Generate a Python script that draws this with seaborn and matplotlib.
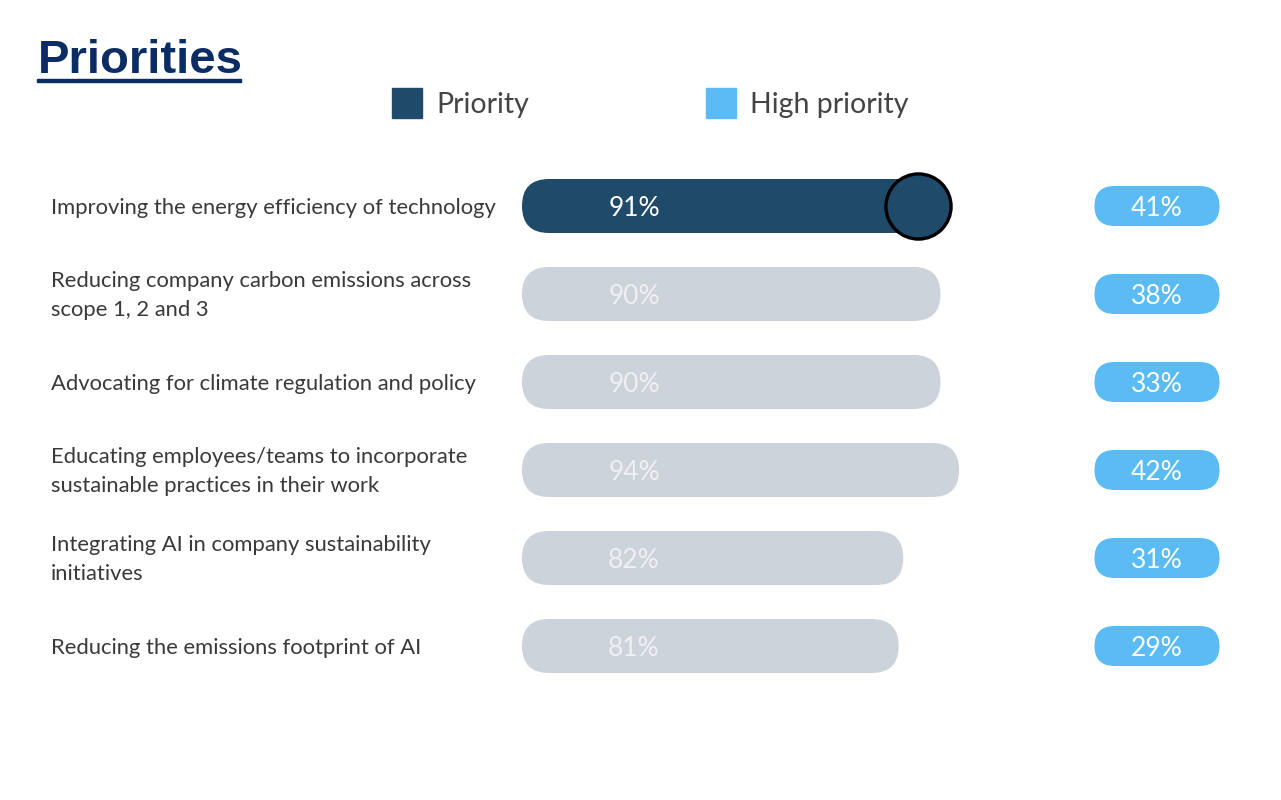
import matplotlib.pyplot as plt
import matplotlib.transforms as mtransforms
from matplotlib.patches import FancyBboxPatch, Rectangle
import pandas as pd
import seaborn as sns

# data
categories = [
    "Improving the energy efficiency of technology",
    "Reducing company carbon emissions across\nscope 1, 2 and 3",
    "Advocating for climate regulation and policy",
    "Educating employees/teams to incorporate\nsustainable practices in their work",
    "Integrating AI in company sustainability\ninitiatives",
    "Reducing the emissions footprint of AI",
]
priority = [91, 90, 90, 94, 82, 81]
high_priority = [41, 38, 33, 42, 31, 29]
highlighted = 0  # row shown in dark colour

DARK = "#1f4a6a"
GREY = "#cdd3da"
LIGHT_BLUE = "#5bbcf5"
NAVY = "#0c2d63"
TEXT = "#3a3a3a"

sns.set_theme(style="white")
plt.rcParams["font.family"] = ["Lato", "DejaVu Sans"]

df = pd.DataFrame({"cat": categories, "priority": priority, "high": high_priority})

W, H = 1281, 800
fig = plt.figure(figsize=(W / 100, H / 100), dpi=100)
# bar area: x from 522px to right edge, rows 88px apart
ax = fig.add_axes([522 / W, 1 - 690 / H, (W - 522) / W, 528 / H])
px_per_pct = 4.65
xmax = (W - 522) / px_per_pct
bar_h = 54 / 88

palette = [DARK if i == highlighted else GREY for i in range(len(categories))]
sns.barplot(data=df, x="priority", y="cat", hue="cat", palette=palette,
            saturation=1, legend=False, orient="h", width=bar_h, ax=ax)
ax.set_xlim(0, xmax)
ax.set_ylim(len(categories) - 0.5, -0.5)
ax.axis("off")

# round off the bars
aspect = (1 / 88) / (1 / px_per_pct)
r_x = 27 / px_per_pct
for p in list(ax.patches):
    x, y, w, h = p.get_x(), p.get_y(), p.get_width(), p.get_height()
    fc = p.get_facecolor()
    p.remove()
    ax.add_patch(FancyBboxPatch((x, y), w, h,
                                boxstyle=f"round,pad=0,rounding_size={r_x}",
                                mutation_aspect=aspect, fc=fc, ec="none", zorder=2))

# circle at end of highlighted bar
ax.scatter([priority[highlighted] - r_x], [highlighted], s=2200, color=DARK,
           edgecolor="black", linewidth=2.4, zorder=3)

pill_c = (1157 - 522) / px_per_pct
pill_w = 125 / px_per_pct
pill_h = 40 / 88
pr_x = 20 / px_per_pct
lbl_x = (634 - 522) / px_per_pct
for i in range(len(categories)):
    col = "white" if i == highlighted else "#eef0f3"
    ax.text(lbl_x, i + 0.025, f"{priority[i]}%", color=col, fontsize=19,
            ha="center", va="center", zorder=4)
    ax.add_patch(FancyBboxPatch((pill_c - pill_w / 2, i - pill_h / 2),
                                pill_w, pill_h,
                                boxstyle=f"round,pad=0,rounding_size={pr_x}",
                                mutation_aspect=aspect, fc=LIGHT_BLUE, ec="none",
                                zorder=2))
    ax.text(pill_c, i + 0.025, f"{high_priority[i]}%", color="white", fontsize=19,
            ha="center", va="center", zorder=4)

# category labels on the left
trans = mtransforms.blended_transform_factory(fig.transFigure, ax.transData)
for i, c in enumerate(categories):
    ax.text(51 / W, i + 0.02, c, transform=trans, ha="left", va="center",
            fontsize=15.8, color=TEXT, linespacing=1.55)

# title with underline
fig.text(38 / W, 1 - 73 / H, "Priorities", fontsize=34, fontweight="bold",
         color=NAVY, family=["Liberation Sans", "DejaVu Sans"], va="baseline")
fig.add_artist(Rectangle((37 / W, 1 - 82 / H), 204 / W, 3 / H, color=NAVY,
                         transform=fig.transFigure))

# legend
for x0, label, colr in [(392, "Priority", DARK), (706, "High priority", LIGHT_BLUE)]:
    fig.add_artist(Rectangle((x0 / W, 1 - 118 / H), 30 / W, 30 / H, color=colr,
                             transform=fig.transFigure))
    fig.text((x0 + 44) / W, 1 - 105 / H, label, fontsize=20.5, color="#444444",
             va="center", ha="left")

fig.savefig("out.png", dpi=100, facecolor="white")
